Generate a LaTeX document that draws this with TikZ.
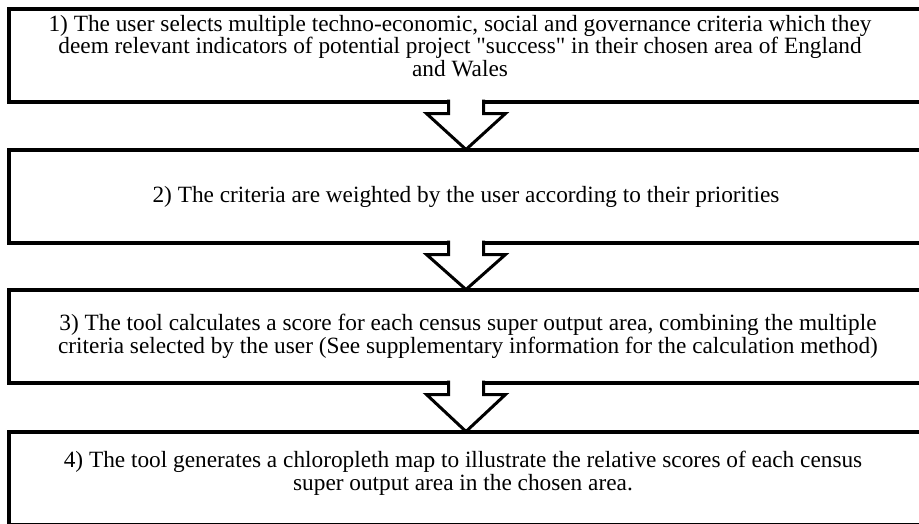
\documentclass[tikz,border=0pt]{standalone}
\usepackage{fontspec}
\setmainfont{Liberation Serif}
\usetikzlibrary{calc}
\tikzset{
  box/.style={draw=black, fill=white, line width=4pt, rectangle, outer sep=0pt, inner sep=0pt,
    minimum width=914pt, minimum height=93pt},
  txt/.style={align=center, inner sep=0pt, font=\fontsize{23.3}{22.8}\selectfont},
  arrowline/.style={draw=black, line width=3pt, line join=miter},
}
\newcommand\blockarrow[2]{%
  \fill[white] ($(#1.south)+(-17.5,-2.5)$) rectangle ($(#1.south)+(17.5,12)$);
  \fill[white] ($(#1.south)+(-39.5,12)$) -- (#2.north) -- ($(#1.south)+(39.5,12)$) -- cycle;
  \draw[arrowline] ($(#1.south)+(-17.5,-2)$) -- ($(#1.south)+(-17.5,12)$) -- ($(#1.south)+(-39.5,12)$)
    -- (#2.north) -- ($(#1.south)+(39.5,12)$) -- ($(#1.south)+(17.5,12)$) -- ($(#1.south)+(17.5,-2)$);
}
\begin{document}
\begin{tikzpicture}[x=1pt,y=-1pt]
\fill[white] (0,0) rectangle (919,523);
\clip (0,0) rectangle (919,523);
\node[box] (b1) at (466,55) {};
\node[box] (b2) at (466,196) {};
\node[box] (b3) at (466,336) {};
\node[box] (b4) at (466,478) {};
\blockarrow{b1}{b2}
\blockarrow{b2}{b3}
\blockarrow{b3}{b4}
\node[txt] (t1) at (460,46) {1) The user selects multiple techno-economic, social and governance criteria which they\\deem relevant indicators of potential project \textquotedbl success\textquotedbl{} in their chosen area of England\\and Wales};
\node[txt] (t2) at (466,197) {2) The criteria are weighted by the user according to their priorities};
\node[txt] (t3) at (468,336) {3) The tool calculates a score for each census super output area, combining the multiple\\criteria selected by the user (See supplementary information for the calculation method)};
\node[txt] (t4) at (463,473) {4) The tool generates a chloropleth map to illustrate the relative scores of each census\\super output area in the chosen area.};
\end{tikzpicture}
\end{document}
